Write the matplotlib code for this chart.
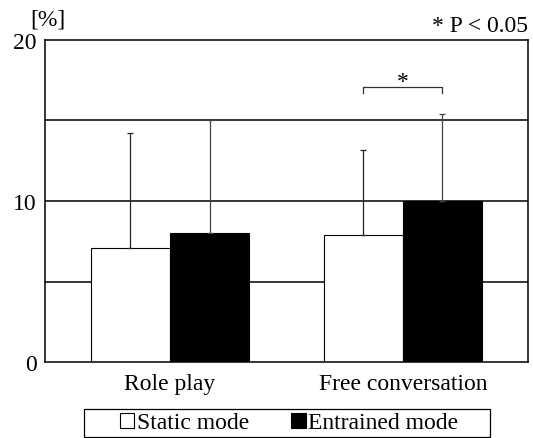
import matplotlib
matplotlib.use("Agg")
import matplotlib.pyplot as plt
from matplotlib.patches import Patch, Rectangle
import numpy as np

categories = ["Role play", "Free conversation"]
series_names = ["Static mode", "Entrained mode"]
static_vals = [7.1, 7.9]
entrained_vals = [8.0, 10.0]
static_err = [7.1, 5.25]
entrained_err = [7.0, 5.4]
yticks = [0, 10, 20]
gridlines = [5, 10, 15]

plt.rcParams['font.family'] = ['Liberation Serif', 'DejaVu Serif']
fs = 17
fig = plt.figure(figsize=(5.33, 4.39), dpi=100)
ax = fig.add_axes([45/533, 1-363/439, 483/533, 322/439])

x = np.arange(len(categories))
w = 0.34
for g in gridlines:
    ax.axhline(g, color='black', lw=1.1, zorder=1)
ax.bar(x - w/2, static_vals, w, color='white', edgecolor='black', lw=0.8, zorder=2)
ax.bar(x + w/2, entrained_vals, w, color='black', edgecolor='black', lw=0.8, zorder=2)
ax.errorbar(x - w/2, static_vals, yerr=[np.zeros(2), static_err], fmt='none',
            ecolor='#222222', elinewidth=0.9, capsize=2.5, capthick=0.9, zorder=3)
ax.errorbar(x + w/2, entrained_vals, yerr=[np.zeros(2), entrained_err], fmt='none',
            ecolor='#444444', elinewidth=0.9, capsize=2.5, capthick=0.9, zorder=3)

# significance bracket
x1, x2 = 1 - w/2, 1 + w/2
ax.plot([x1, x1, x2, x2], [16.7, 17.1, 17.1, 16.7], color='#333333', lw=0.9)
ax.text(1, 17.4, "*", ha='center', va='center', fontsize=fs)

ax.set_xlim(-0.537, 1.538)
ax.set_ylim(0, 20)
ax.set_yticks(yticks)
ax.set_yticklabels([str(t) for t in yticks], fontsize=fs)
ax.tick_params(axis='y', length=0, pad=6)
ax.tick_params(axis='x', length=0, pad=8)
ax.set_xticks(x)
ax.set_xticklabels(categories, fontsize=fs)
for s in ax.spines.values():
    s.set_linewidth(1.1)

fig.text(30/533, 1-20/439, "[%]", fontsize=fs, ha='left', va='center')
fig.text(528/533, 1-26/439, "* P < 0.05", fontsize=fs, ha='right', va='center')

handles = [Patch(facecolor='white', edgecolor='black', lw=0.8),
           Patch(facecolor='black', edgecolor='black', lw=0.8)]
leg = fig.legend(handles, series_names, loc='center', bbox_to_anchor=(289/533, 1-424/439),
                 ncol=2, fontsize=fs, frameon=False, handlelength=0.62,
                 handleheight=0.62, handletextpad=0.1, columnspacing=1.8,
                 borderpad=0.2, borderaxespad=0)
fig.patches.append(Rectangle((84/533, 1-438/439), 406/533, 28/439, transform=fig.transFigure,
                             facecolor='none', edgecolor='black', lw=0.9))

fig.savefig("out.png", dpi=100)
